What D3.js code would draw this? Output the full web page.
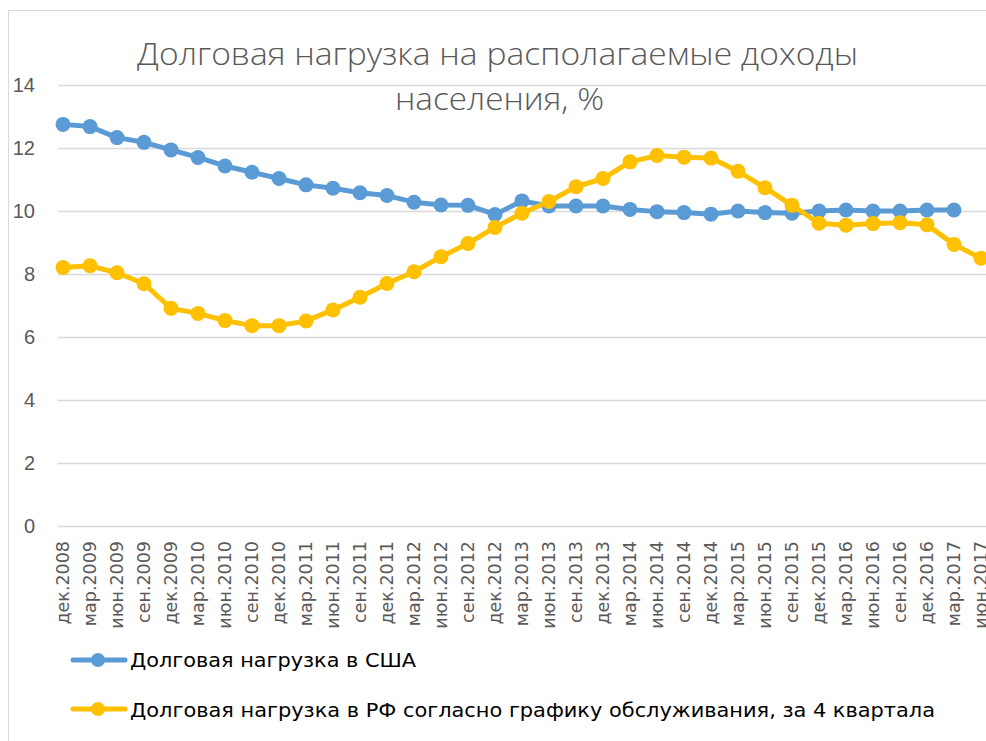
<!DOCTYPE html>
<html>
<head>
<meta charset="utf-8">
<script src="https://cdn.jsdelivr.net/npm/d3@7"></script>
<style>
    html, body { margin: 0; padding: 0; background: #ffffff; overflow: hidden; }
    #chart { width: 986px; height: 741px; }
</style>
</head>
<body>
<div id="chart"></div>
<script>

let CATEGORIES = [
    "дек.2008", "мар.2009", "июн.2009", "сен.2009", "дек.2009", "мар.2010", "июн.2010", "сен.2010",
    "дек.2010", "мар.2011", "июн.2011", "сен.2011", "дек.2011", "мар.2012", "июн.2012", "сен.2012",
    "дек.2012", "мар.2013", "июн.2013", "сен.2013", "дек.2013", "мар.2014", "июн.2014", "сен.2014",
    "дек.2014", "мар.2015", "июн.2015", "сен.2015", "дек.2015", "мар.2016", "июн.2016", "сен.2016",
    "дек.2016", "мар.2017", "июн.2017"
];

// US: no value for the last quarter
let US_VALUES = [
    12.75, 12.68, 12.33, 12.18, 11.94, 11.70, 11.43, 11.23,
    11.03, 10.83, 10.72, 10.58, 10.49, 10.28, 10.19, 10.18,
    9.89, 10.32, 10.16, 10.16, 10.16, 10.05, 9.98, 9.95,
    9.90, 10.00, 9.95, 9.93, 10.00, 10.03, 10.00, 10.00,
    10.03, 10.03, null
];

let RU_VALUES = [
    8.21, 8.26, 8.04, 7.69, 6.91, 6.75, 6.52, 6.36,
    6.36, 6.51, 6.86, 7.26, 7.70, 8.07, 8.55, 8.97,
    9.48, 9.93, 10.30, 10.77, 11.03, 11.56, 11.76, 11.71,
    11.68, 11.26, 10.74, 10.18, 9.61, 9.55, 9.60, 9.63,
    9.56, 8.94, 8.50
];

let Y_TICKS = [0, 2, 4, 6, 8, 10, 12, 14];

let TITLE_LINES = ["Долговая нагрузка на располагаемые доходы", "населения, %"];

let SERIES_NAMES = [
    "Долговая нагрузка в США",
    "Долговая нагрузка в РФ согласно графику обслуживания, за 4 квартала"
];


function renderChart() {

    let width = 986;
    let height = 741;
    let narrowFont = "'Liberation Sans Narrow', 'DejaVu Sans Condensed', 'Liberation Sans', sans-serif";

    let series = [
        { name: SERIES_NAMES[0], values: US_VALUES, color: "#5B9BD5" },
        { name: SERIES_NAMES[1], values: RU_VALUES, color: "#FFC000" }
    ];

    let x = d3.scalePoint()
        .domain(CATEGORIES)
        .range([63, 981]);

    let y = d3.scaleLinear()
        .domain([0, 14])
        .range([526, 85]);

    let svg = d3.select("#chart").append("svg")
        .attr("width", width)
        .attr("height", height);

    // chart frame (cropped on the right and bottom)
    svg.append("path")
        .attr("d", `M8.5,${height + 2} L8.5,10.5 L${width + 2},10.5`)
        .attr("fill", "none")
        .attr("stroke", "#d9d9d9")
        .attr("stroke-width", 1);

    // gridlines
    let gGrid = svg.append("g");
    gGrid.selectAll("line")
        .data(Y_TICKS)
        .join("line")
        .attr("x1", 58)
        .attr("x2", width)
        .attr("y1", d => Math.round(y(d)) + 0.5)
        .attr("y2", d => Math.round(y(d)) + 0.5)
        .attr("stroke", "#d9d9d9")
        .attr("stroke-width", 1.5);

    // y axis labels
    svg.append("g").selectAll("text")
        .data(Y_TICKS)
        .join("text")
        .attr("x", 35)
        .attr("y", d => y(d))
        .attr("dy", "0.36em")
        .attr("text-anchor", "end")
        .attr("fill", "#595959")
        .attr("font-family", "'Liberation Sans', Arial, sans-serif")
        .attr("font-size", "20px")
        .text(d => d);

    // x axis labels, rotated
    svg.append("g").selectAll("text")
        .data(CATEGORIES)
        .join("text")
        .attr("transform", d => `translate(${x(d)},541) rotate(-90)`)
        .attr("dy", "0.36em")
        .attr("text-anchor", "end")
        .attr("fill", "#595959")
        .attr("font-family", "'DejaVu Sans', sans-serif")
        .attr("font-size", "17.5px")
        .text(d => d);

    // title
    let titleLayout = [
        { text: TITLE_LINES[0], cx: 497.5, base: 65, len: 721 },
        { text: TITLE_LINES[1], cx: 499.5, base: 110, len: 209 }
    ];
    svg.append("g").selectAll("text")
        .data(titleLayout)
        .join("text")
        .attr("x", d => d.cx)
        .attr("y", d => d.base)
        .attr("text-anchor", "middle")
        .attr("fill", "#595959")
        .attr("font-family", "'Open Sans', 'Noto Sans', sans-serif")
        .attr("font-weight", 300)
        .attr("font-size", "31px")
        .attr("textLength", d => d.len)
        .attr("lengthAdjust", "spacingAndGlyphs")
        .text(d => d.text);

    // series lines and markers
    let line = d3.line()
        .defined(d => d.value != null)
        .x(d => x(d.cat))
        .y(d => y(d.value));

    series.forEach(s => {
        let points = CATEGORIES.map((cat, i) => ({ cat: cat, value: s.values[i] }));

        svg.append("path")
            .datum(points)
            .attr("d", line)
            .attr("fill", "none")
            .attr("stroke", s.color)
            .attr("stroke-width", 5)
            .attr("stroke-linejoin", "round")
            .attr("stroke-linecap", "round");

        svg.append("g").selectAll("circle")
            .data(points.filter(p => p.value != null))
            .join("circle")
            .attr("cx", d => x(d.cat))
            .attr("cy", d => y(d.value))
            .attr("r", 7.5)
            .attr("fill", s.color);
    });

    // legend
    let legendLayout = [
        { base: 667, mid: 660, len: 286 },
        { base: 717, mid: 709, len: 805 }
    ];
    let gLegend = svg.append("g");
    series.forEach((s, i) => {
        let lay = legendLayout[i];
        gLegend.append("line")
            .attr("x1", 73)
            .attr("x2", 125)
            .attr("y1", lay.mid)
            .attr("y2", lay.mid)
            .attr("stroke", s.color)
            .attr("stroke-width", 5)
            .attr("stroke-linecap", "round");
        gLegend.append("circle")
            .attr("cx", 98)
            .attr("cy", lay.mid)
            .attr("r", 7)
            .attr("fill", s.color);
        gLegend.append("text")
            .attr("x", 130)
            .attr("y", lay.base)
            .attr("fill", "#000000")
            .attr("font-family", narrowFont)
            .attr("font-size", "19px")
            .attr("textLength", lay.len)
            .attr("lengthAdjust", "spacingAndGlyphs")
            .text(s.name);
    });
}

renderChart();

</script>
</body>
</html>
